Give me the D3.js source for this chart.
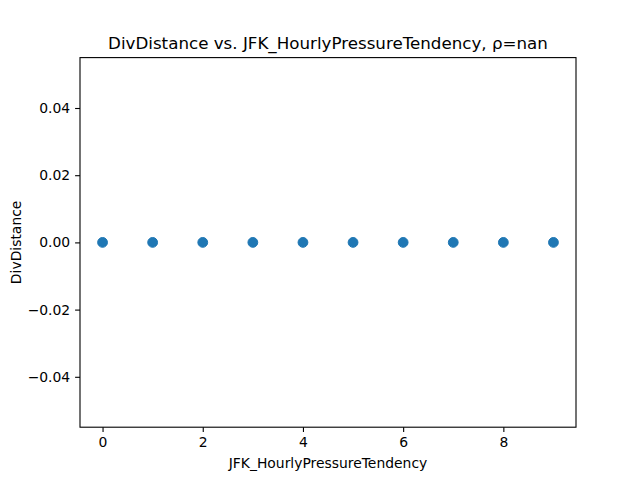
<!DOCTYPE html>
<html>
<head>
<meta charset="utf-8">
<script src="https://cdn.jsdelivr.net/npm/d3@7"></script>
<style>
  body { margin: 0; background: #fff; }
  text { font-family: "DejaVu Sans", sans-serif; fill: #000; }
</style>
</head>
<body>
<div id="chart"></div>
<script>
// scatter data: pressure tendency vs. div distance (all zero)
const tendency = [0, 1, 2, 3, 4, 5, 6, 7, 8, 9];
const divDistance = [0, 0, 0, 0, 0, 0, 0, 0, 0, 0];
const xTicks = [0, 2, 4, 6, 8];
const yTicks = [-0.04, -0.02, 0.00, 0.02, 0.04];

const width = 640, height = 480;
const margin = { top: 57.6, right: 64, bottom: 52.8, left: 80 };

const svg = d3.select("#chart")
  .append("svg")
  .attr("width", width)
  .attr("height", height);

const x = d3.scaleLinear()
  .domain([-0.45, 9.45])
  .range([margin.left, width - margin.right]);

const y = d3.scaleLinear()
  .domain([-0.055, 0.055])
  .range([height - margin.bottom, margin.top]);

// x axis
const xAxis = svg.append("g")
  .attr("transform", `translate(0,${height - margin.bottom})`)
  .call(d3.axisBottom(x).tickValues(xTicks).tickFormat(d3.format("d"))
    .tickSize(4.9).tickPadding(4.9));

// y axis
const yAxis = svg.append("g")
  .attr("transform", `translate(${margin.left},0)`)
  .call(d3.axisLeft(y).tickValues(yTicks).tickFormat(d3.format(".2f"))
    .tickSize(4.9).tickPadding(4.9));

[xAxis, yAxis].forEach(g => {
  g.select(".domain").remove();
  g.selectAll(".tick line").attr("stroke", "#000").attr("stroke-width", 1.1);
  g.selectAll(".tick text").style("font-size", "13.9px").attr("fill", "#000");
});

// points
svg.append("g")
  .selectAll("circle")
  .data(tendency.map((d, i) => ({ x: d, y: divDistance[i] })))
  .join("circle")
  .attr("cx", d => x(d.x))
  .attr("cy", d => y(d.y))
  .attr("r", 4.9)
  .attr("fill", "#1f77b4")
  .attr("stroke", "#1f77b4")
  .attr("stroke-width", 1);

// frame
svg.append("rect")
  .attr("x", margin.left)
  .attr("y", margin.top)
  .attr("width", width - margin.left - margin.right)
  .attr("height", height - margin.top - margin.bottom)
  .attr("fill", "none")
  .attr("stroke", "#000")
  .attr("stroke-width", 1.1);

// title and labels
svg.append("text")
  .attr("x", (margin.left + width - margin.right) / 2)
  .attr("y", 49)
  .attr("text-anchor", "middle")
  .style("font-size", "16.7px")
  .text("DivDistance vs. JFK_HourlyPressureTendency, ρ=nan");

svg.append("text")
  .attr("x", (margin.left + width - margin.right) / 2)
  .attr("y", 468)
  .attr("text-anchor", "middle")
  .style("font-size", "13.9px")
  .text("JFK_HourlyPressureTendency");

svg.append("text")
  .attr("transform", `translate(21,${(margin.top + height - margin.bottom) / 2}) rotate(-90)`)
  .attr("text-anchor", "middle")
  .style("font-size", "13.9px")
  .text("DivDistance");
</script>
</body>
</html>
